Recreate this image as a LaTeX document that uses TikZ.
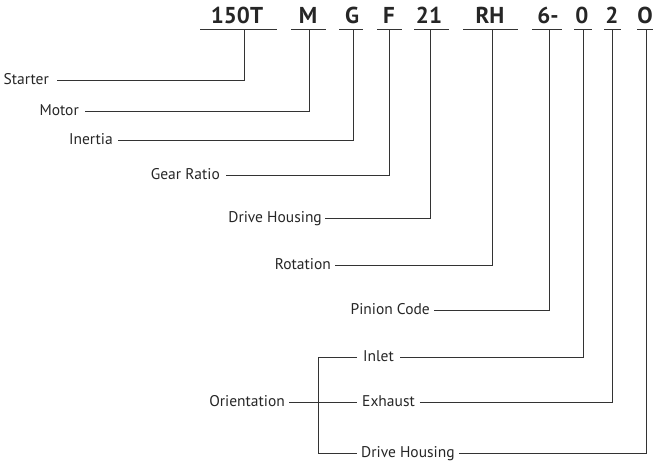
\documentclass[tikz,border=0pt]{standalone}
\usepackage{fontspec}
\setmainfont{PT Sans}
\begin{document}
\begin{tikzpicture}[x=1pt,y=-1pt,
  ln/.style={line width=0.8pt, draw=black!80},
  code/.style={font=\fontsize{23}{26}\selectfont\bfseries, inner sep=0pt, anchor=base, text=black!85},
  lab/.style={font=\fontsize{15.5}{18}\selectfont, inner ysep=0pt, text height=8pt, text depth=0pt, text=black!85},
]
\useasboundingbox (0,0) rectangle (653,461);
% code letters
\node[code] (c1) at (237,23.3) {150T};
\node[code] (c2) at (308,23.3) {M};
\node[code] (c3) at (352,23.3) {G};
\node[code] (c4) at (389,23.3) {F};
\node[code] (c5) at (429,23.3) {21};
\node[code] (c6) at (490,23.3) {RH};
\node[code] (c7) at (548,23.3) {6-};
\node[code] (c8) at (582,23.3) {0};
\node[code] (c9) at (612,23.3) {2};
\node[code] (c10) at (645,23.3) {O};
% underlines
\draw[ln] (200,29.5) -- (277,29.5);
\draw[ln] (291,29.5) -- (326,29.5);
\draw[ln] (339,29.5) -- (363,29.5);
\draw[ln] (377,29.5) -- (402,29.5);
\draw[ln] (414,29.5) -- (449,29.5);
\draw[ln] (463,29.5) -- (518,29.5);
\draw[ln] (532,29.5) -- (562,29.5);
\draw[ln] (574,29.5) -- (592,29.5);
\draw[ln] (604,29.5) -- (621,29.5);
\draw[ln] (637,29.5) -- (653,29.5);
% stem points
\coordinate (s1) at (244,29.5);
\coordinate (s2) at (309,29.5);
\coordinate (s3) at (353,29.5);
\coordinate (s4) at (389,29.5);
\coordinate (s5) at (430,29.5);
\coordinate (s6) at (492,29.5);
\coordinate (s7) at (549,29.5);
\coordinate (s8) at (583,29.5);
\coordinate (s9) at (612.5,29.5);
\coordinate (s10) at (646,29.5);
% labels
\node[lab, anchor=east, inner xsep=8pt] (l1) at (57,80.7) {Starter};
\node[lab, anchor=east, inner xsep=6pt] (l2) at (85,111) {Motor};
\node[lab, anchor=east, inner xsep=5pt] (l3) at (118,140) {Inertia};
\node[lab, anchor=east, inner xsep=6pt] (l4) at (226,175) {Gear Ratio};
\node[lab, anchor=east, inner xsep=3pt] (l5) at (325,218) {Drive Housing};
\node[lab, anchor=east, inner xsep=4pt] (l6) at (335,265) {Rotation};
\node[lab, anchor=east, inner xsep=4pt] (l7) at (434,310) {Pinion Code};
\node[lab, anchor=east, inner xsep=4pt] (lo) at (289,402) {Orientation};
\node[lab, anchor=west, inner xsep=6pt] (l8) at (357,357) {Inlet};
\node[lab, anchor=west, inner xsep=5pt] (l9) at (357,402) {Exhaust};
\node[lab, anchor=west, inner xsep=4pt] (l10) at (357,453) {Drive Housing};
% connectors
\draw[ln] (l1.east) -| (s1);
\draw[ln] (l2.east) -| (s2);
\draw[ln] (l3.east) -| (s3);
\draw[ln] (l4.east) -| (s4);
\draw[ln] (l5.east) -| (s5);
\draw[ln] (l6.east) -| (s6);
\draw[ln] (l7.east) -| (s7);
\draw[ln] (l8.east) -| (s8);
\draw[ln] (l9.east) -| (s9);
\draw[ln] (l10.east) -| (s10);
\draw[ln] (lo.east) -- (l9.west);
\draw[ln] (l8.west) -- ++(-39pt,0pt) |- (l10.west);
\end{tikzpicture}
\end{document}
